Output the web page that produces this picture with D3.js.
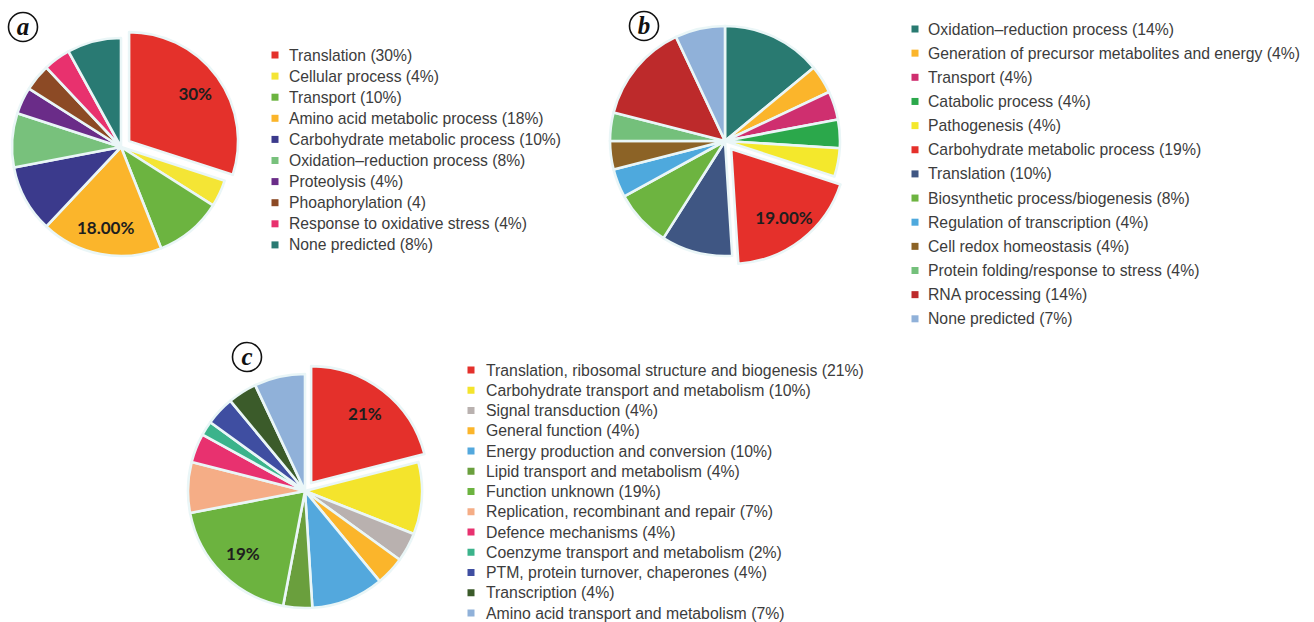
<!DOCTYPE html>
<html>
<head>
<meta charset="utf-8">
<script src="https://cdn.jsdelivr.net/npm/d3@7"></script>
<style>
  html, body { margin: 0; padding: 0; background: #ffffff; }
  svg { display: block; }
  .legend text { font-family: "Liberation Sans", Arial, sans-serif; fill: #3c3c3c; }
  .slice-label { font-family: Lato, "Open Sans", sans-serif; font-weight: 700; fill: #1e1e1e; }
  .panel-letter { font-family: "Liberation Serif", "DejaVu Serif", serif; font-style: italic; font-weight: 700; fill: #111; }
</style>
</head>
<body>
<svg id="chart" width="1314" height="622"></svg>
<script>
// ---- Panel a: biological process ----
const catsA = ["Translation", "Cellular process", "Transport", "Amino acid metabolic process",
  "Carbohydrate metabolic process", "Oxidation\u2013reduction process", "Proteolysis",
  "Phoaphorylation", "Response to oxidative stress", "None predicted"];
const valsA = [30, 4, 10, 18, 10, 8, 4, 4, 4, 8];
const unitsA = ["%", "%", "%", "%", "%", "%", "%", "", "%", "%"];
const explodedA = [0];
const labelledA = [{ i: 0, dp: 0 }, { i: 3, dp: 2 }];

// ---- Panel b ----
const catsB = ["Oxidation\u2013reduction process", "Generation of precursor metabolites and energy",
  "Transport", "Catabolic process", "Pathogenesis", "Carbohydrate metabolic process",
  "Translation", "Biosynthetic process/biogenesis", "Regulation of transcription",
  "Cell redox homeostasis", "Protein folding/response to stress", "RNA processing", "None predicted"];
const valsB = [14, 4, 4, 4, 4, 19, 10, 8, 4, 4, 4, 14, 7];
const explodedB = [5];
const labelledB = [{ i: 5, dp: 2 }];

// ---- Panel c: functional classes ----
const catsC = ["Translation, ribosomal structure and biogenesis", "Carbohydrate transport and metabolism",
  "Signal transduction", "General function", "Energy production and conversion",
  "Lipid transport and metabolism", "Function unknown", "Replication, recombinant and repair",
  "Defence mechanisms", "Coenzyme transport and metabolism", "PTM, protein turnover, chaperones",
  "Transcription", "Amino acid transport and metabolism"];
const valsC = [21, 10, 4, 4, 10, 4, 19, 7, 4, 2, 4, 4, 7];
const explodedC = [0];
const labelledC = [{ i: 0, dp: 0 }, { i: 6, dp: 0 }];

// slice palettes
const paletteA = ["#e4312b", "#f4e535", "#6cb440", "#fbb52b", "#3b3a8c", "#78c17c",
  "#6a2c88", "#8c4a25", "#e8316e", "#297a73"];
const paletteB = ["#297a71", "#fbb52b", "#cf2f6f", "#2ba84b", "#f4e82c", "#e5302b",
  "#3f5683", "#6db440", "#4ea9dd", "#8c6326", "#74c07b", "#bd2a2b", "#90b1d9"];
const paletteC = ["#e4302b", "#f4e42c", "#b9b1af", "#fbb52b", "#53a8dd", "#6a9f3d",
  "#6cb33f", "#f5ad86", "#e8316f", "#3bb38b", "#3f4ea1", "#3b5b2a", "#90b1d9"];

const svg = d3.select("#chart");

function drawPie(cfg) {
  const pie = d3.pie().sort(null).value(d => d)(cfg.values);
  const arc = d3.arc().innerRadius(0).outerRadius(cfg.r);
  const labelArc = d3.arc().innerRadius(cfg.r * 0.75).outerRadius(cfg.r * 0.75);
  const g = svg.append("g").attr("transform", `translate(${cfg.cx},${cfg.cy})`);

  const shift = (d, i) => {
    if (!cfg.exploded.includes(i)) return [0, 0];
    const mid = (d.startAngle + d.endAngle) / 2;
    return [Math.sin(mid) * cfg.explode, -Math.cos(mid) * cfg.explode];
  };

  g.selectAll("path.slice").data(pie).join("path")
    .attr("class", "slice")
    .attr("d", arc)
    .attr("transform", (d, i) => `translate(${shift(d, i)})`)
    .attr("fill", (d, i) => cfg.palette[i])
    .attr("stroke", "#eaf6f7")
    .attr("stroke-width", 2.6)
    .attr("stroke-linejoin", "round");

  g.selectAll("text.slice-label").data(cfg.labelled).join("text")
    .attr("class", "slice-label")
    .attr("transform", l => {
      const d = pie[l.i];
      const [x, y] = labelArc.centroid(d);
      const [sx, sy] = shift(d, l.i);
      return `translate(${x + sx},${y + sy})`;
    })
    .attr("text-anchor", "middle")
    .attr("dominant-baseline", "central")
    .style("font-size", "17px")
    .text(l => cfg.values[l.i].toFixed(l.dp) + "%");

  // circled panel letter
  const lg = svg.append("g").attr("transform", `translate(${cfg.letterX},${cfg.letterY})`);
  lg.append("circle").attr("r", 14.5).attr("fill", "#fff").attr("stroke", "#111").attr("stroke-width", 1.6);
  lg.append("text").attr("class", "panel-letter")
    .attr("text-anchor", "middle").attr("dominant-baseline", "central")
    .attr("y", -1)
    .style("font-size", "25px")
    .text(cfg.letter);
}

function drawLegend(cfg) {
  const g = svg.append("g").attr("class", "legend")
    .attr("transform", `translate(${cfg.x},${cfg.y})`);
  const rows = g.selectAll("g").data(cfg.labels).join("g")
    .attr("transform", (d, i) => `translate(0,${i * cfg.step})`);
  rows.append("rect").attr("x", -3.5).attr("y", -3.5).attr("width", 7).attr("height", 7)
    .attr("fill", (d, i) => cfg.palette[i]);
  rows.append("text").attr("x", cfg.textDx).attr("dominant-baseline", "central")
    .style("font-size", cfg.fontSize + "px")
    .text(d => d);
}

const legendText = (cats, vals, units) =>
  cats.map((c, i) => `${c} (${vals[i]}${units ? units[i] : "%"})`);

drawPie({ values: valsA, palette: paletteA, cx: 121, cy: 147, r: 109, explode: 10,
  exploded: explodedA, labelled: labelledA, letter: "a", letterX: 23, letterY: 27 });
drawLegend({ labels: legendText(catsA, valsA, unitsA), palette: paletteA,
  x: 275, y: 55, step: 21.1, textDx: 14, fontSize: 15.7 });

drawPie({ values: valsB, palette: paletteB, cx: 725, cy: 141, r: 115, explode: 10,
  exploded: explodedB, labelled: labelledB, letter: "b", letterX: 644, letterY: 26 });
drawLegend({ labels: legendText(catsB, valsB), palette: paletteB,
  x: 915, y: 29, step: 24.15, textDx: 13, fontSize: 15.75 });

drawPie({ values: valsC, palette: paletteC, cx: 305, cy: 491, r: 117, explode: 10,
  exploded: explodedC, labelled: labelledC, letter: "c", letterX: 247, letterY: 357 });
drawLegend({ labels: legendText(catsC, valsC), palette: paletteC,
  x: 471, y: 370, step: 20.25, textDx: 15, fontSize: 15.8 });
</script>
</body>
</html>
